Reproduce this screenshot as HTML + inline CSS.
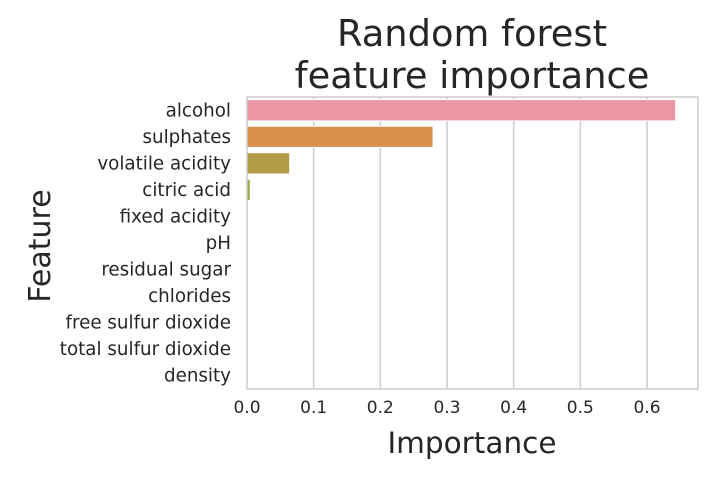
<!DOCTYPE html>
<html><head><meta charset="utf-8"><style>
body{margin:0;background:#fff;font-family:"Liberation Sans","DejaVu Sans",sans-serif;}
</style></head><body>
<svg width="720" height="480" xmlns="http://www.w3.org/2000/svg" id="chart">
<text x="472" y="46" font-size="36.8" fill="#262626" text-anchor="middle" font-family="DejaVu Sans, sans-serif">Random forest</text>
<text x="472" y="88" font-size="36.8" fill="#262626" text-anchor="middle" font-family="DejaVu Sans, sans-serif">feature importance</text>
<g id="grid"></g><g id="bars"></g><g id="ylabels"></g><g id="xlabels"></g>
<rect x="247" y="97" width="451" height="292" fill="none" stroke="#cccccc" stroke-width="1.5"/>
<text x="472" y="453" font-size="29.5" fill="#262626" text-anchor="middle" font-family="DejaVu Sans, sans-serif">Importance</text>
<text transform="translate(50,246) rotate(-90)" font-size="30" fill="#262626" text-anchor="middle" font-family="DejaVu Sans, sans-serif">Feature</text>
</svg>
<script>
const features=["alcohol","sulphates","volatile acidity","citric acid","fixed acidity","pH","residual sugar","chlorides","free sulfur dioxide","total sulfur dioxide","density"];
const importance=[0.643,0.279,0.064,0.005,0,0,0,0,0,0,0];
const xTicks=[0,0.1,0.2,0.3,0.4,0.5,0.6];
const xTickLabels=["0.0","0.1","0.2","0.3","0.4","0.5","0.6"];
const colors=["#ea96a3","#dc904e","#b39b48","#9aae4a","#5db44f","#52b08d","#55aeaa","#59abc6","#7aa6e7","#b99aec","#e08ad9"];
const L=247,T=97,W=451,H=292,xmax=0.6765;
const xs=v=>L+v/xmax*W;
const band=H/features.length;
const ns="http://www.w3.org/2000/svg";
function mk(t,a,p){const e=document.createElementNS(ns,t);for(const k in a)e.setAttribute(k,a[k]);document.getElementById(p).appendChild(e);return e;}
xTicks.forEach((v,i)=>{
 if(v>0){const g=mk("line",{x1:xs(v),x2:xs(v),y1:T,y2:T+H,stroke:"#cccccc","stroke-width":1.5},"grid");
 
 }
 const t=mk("text",{x:xs(v),y:413,"font-size":17,fill:"#262626","text-anchor":"middle","font-family":"DejaVu Sans, sans-serif"},"xlabels");
 t.textContent=xTickLabels[i];
 
 
});
features.forEach((f,i)=>{
 const cy=T+band*(i+0.5);
 const b=mk("rect",{x:L,y:cy-band*0.4,width:Math.max(0,xs(importance[i])-L),height:band*0.8,fill:colors[i],stroke:"#fff","stroke-width":1},"bars");
 
 
 const t=mk("text",{x:231,y:cy+6,"font-size":18.3,fill:"#262626","text-anchor":"end","font-family":"DejaVu Sans, sans-serif"},"ylabels");
 t.textContent=f;
 
 
});
</script>
</body></html>
